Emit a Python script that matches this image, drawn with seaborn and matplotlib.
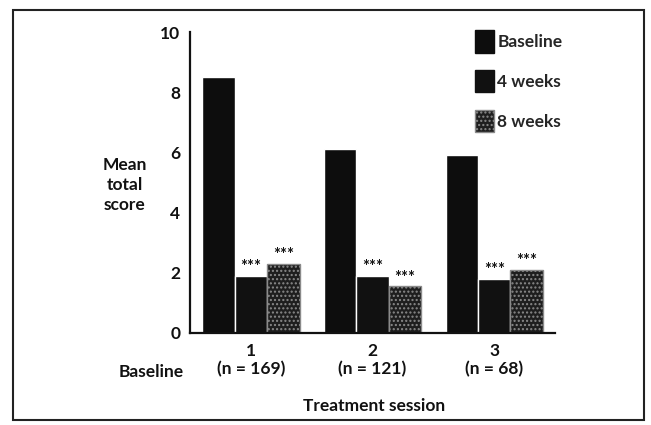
import pandas as pd
import numpy as np
import matplotlib
matplotlib.use("Agg")
import matplotlib.pyplot as plt
import matplotlib.patches as mpatches
import seaborn as sns

# values
sessions = ["1", "2", "3"]
session_labels = ["1\n(n = 169)", "2\n(n = 121)", "3\n(n = 68)"]
periods = ["Baseline", "4 weeks", "8 weeks"]
baseline = [8.5, 6.1, 5.9]
weeks4 = [1.9, 1.9, 1.8]
weeks8 = [2.3, 1.55, 2.1]
stars = "***"

df = pd.DataFrame({
    "session": sessions * 3,
    "period": [p for p in periods for _ in sessions],
    "score": baseline + weeks4 + weeks8,
})

sns.set_theme(style="white")
plt.rcParams["font.family"] = ["Lato", "DejaVu Sans"]
plt.rcParams["font.weight"] = "bold"
plt.rcParams["hatch.linewidth"] = 1.0

fig = plt.figure(figsize=(6.51, 4.25), dpi=100)
ax = fig.add_axes([0.292, 0.2165, 0.5607, 0.708])

palette = {"Baseline": "#0d0d0d", "4 weeks": "#111111", "8 weeks": "#1e1e1e"}
sns.barplot(data=df, x="session", y="score", hue="period", order=sessions,
            hue_order=periods, palette=palette, width=0.8,
            saturation=1, ax=ax, legend=False)

# speckled fill for the 8-week bars
for bar in ax.containers[2]:
    bar.set_hatch("....")
    bar.set_edgecolor("#8a8a8a")
    bar.set_linewidth(1.0)

# significance stars over the follow-up bars
for cont in ax.containers[1:]:
    for bar in cont:
        ax.text(bar.get_x() + bar.get_width() / 2, bar.get_height() + 0.02, stars,
                ha="center", va="bottom", fontsize=12, fontweight="bold", color="#111111")

ax.set_xlim(-0.5, 2.5)
ax.set_ylim(0, 10)
ax.set_yticks([0, 2, 4, 6, 8, 10])
ax.set_yticklabels(["0", "2", "4", "6", "8", "10"], fontsize=12.5, fontweight="bold")
ax.set_xticks([0, 1, 2])
ax.set_xticklabels(session_labels, fontsize=12.5, fontweight="bold", linespacing=1.2)
ax.set_xticks([-0.5, 0.5, 1.5, 2.5], minor=True)
ax.tick_params(axis="x", which="major", length=0, pad=7)
ax.tick_params(axis="x", which="minor", length=6, width=1.5, direction="out", color="#111111")
ax.tick_params(axis="y", length=5, width=1.5, direction="out", color="#111111", pad=2)
ax.tick_params(colors="#111111")
for side in ["top", "right"]:
    ax.spines[side].set_visible(False)
for side in ["left", "bottom"]:
    ax.spines[side].set_linewidth(1.6)
    ax.spines[side].set_color("#111111")

ax.set_xlabel("")
ax.set_ylabel("")
fig.text(0.192, 0.565, "Mean\ntotal\nscore", ha="center", va="center",
         fontsize=12.5, fontweight="bold", linespacing=1.3, color="#111111")
fig.text(0.232, 0.125, "Baseline", ha="center", va="center",
         fontsize=12.5, fontweight="bold", color="#111111")
fig.text(0.575, 0.045, "Treatment session", ha="center", va="center",
         fontsize=12.5, fontweight="bold", color="#111111")

handles = [mpatches.Patch(facecolor=palette[p], edgecolor="#8a8a8a" if p == "8 weeks" else palette[p],
                          hatch="...." if p == "8 weeks" else None) for p in periods]
fig.legend(handles, periods, loc="upper left", bbox_to_anchor=(0.705, 0.965),
           frameon=False, fontsize=12.5, handlelength=1.1, handleheight=1.6,
           handletextpad=0.2, labelspacing=1.0)

# scanned frame around the figure
fig.patches.append(mpatches.Rectangle((0.02, 0.012), 0.97, 0.965, transform=fig.transFigure,
                                      fill=False, edgecolor="#222222", linewidth=1.5))

fig.savefig("out.png", dpi=100)
